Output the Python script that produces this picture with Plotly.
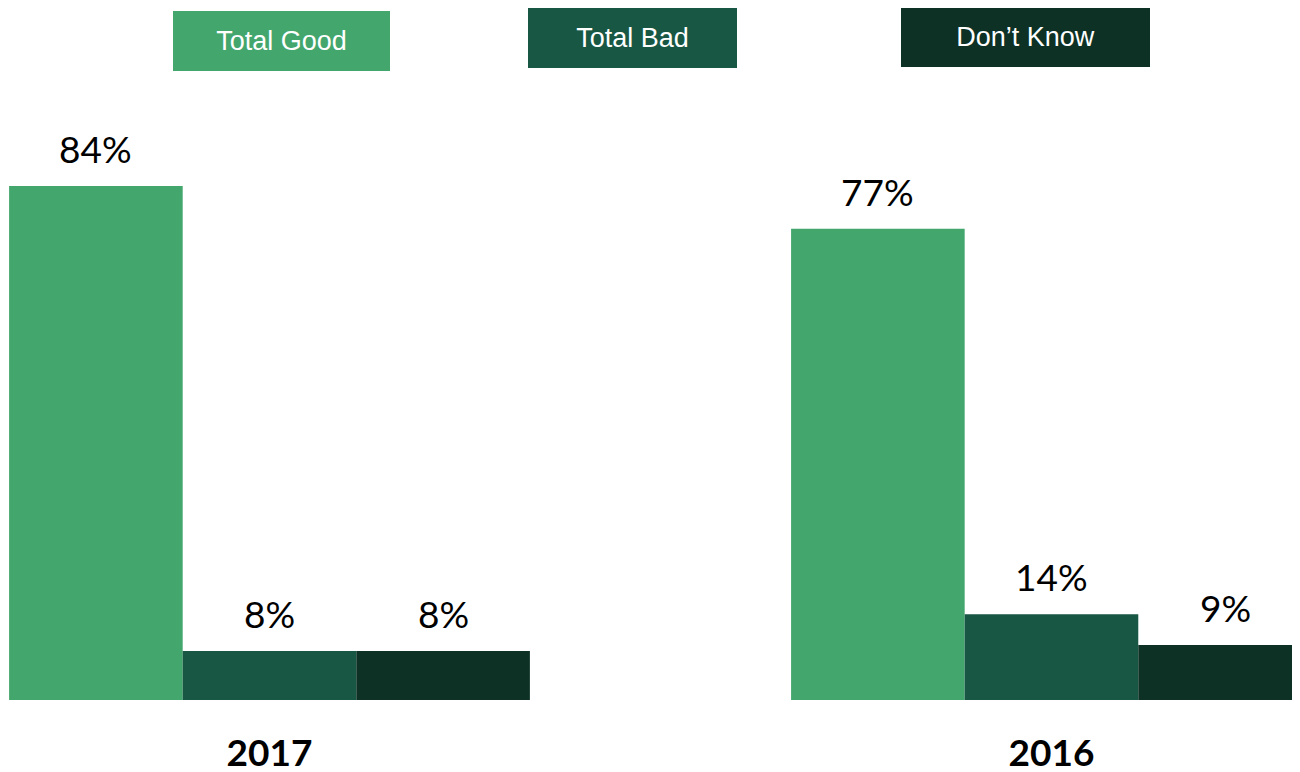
import plotly.graph_objects as go

years = ["2017", "2016"]
series_names = ["Total Good", "Total Bad", "Don\u2019t Know"]
total_good = [84, 77]
total_bad = [8, 14]
dont_know = [8, 9]
colors = ["#43A66D", "#185744", "#0D3125"]

series_values = [total_good, total_bad, dont_know]

# page has an 8px body margin; size the figure so it fits the window
W, H = 1292, 764

bargap = 0.334
n_series = len(series_values)
bar_w = (1 - bargap) / n_series

fig = go.Figure()
for name, vals, col in zip(series_names, series_values, colors):
    fig.add_trace(go.Bar(
        x=years, y=vals, name=name,
        marker=dict(color=col, line=dict(width=0)),
        showlegend=False,
        hoverinfo="skip",
    ))

annotations = []
# value labels above bars
for i, vals in enumerate(series_values):
    off = (i - (n_series - 1) / 2) * bar_w
    for j, v in enumerate(vals):
        annotations.append(dict(
            x=j + off, y=v, xref="x", yref="y",
            text=f"{v}%", showarrow=False,
            yanchor="bottom", xanchor="center", yshift=13,
            font=dict(family="Lato", size=37, color="#000000"),
        ))

# legend boxes (center x in figure px, paper y, width, height)
legend_boxes = [
    (273.5, 1.0983, 217, 60),
    (624.5, 1.1033, 209, 60),
    (1017.5, 1.105, 249, 60),
]
for name, col, (bx, by, bw, bh) in zip(series_names, colors, legend_boxes):
    annotations.append(dict(
        x=bx / W, y=by, xref="paper", yref="paper",
        xanchor="center", yanchor="middle",
        text=name, showarrow=False,
        width=bw, height=bh, bgcolor=col, borderpad=0, borderwidth=0,
        font=dict(family="Liberation Sans, Arial, sans-serif", size=27, color="#FFFFFF"),
    ))

fig.update_layout(
    width=W, height=H,
    margin=dict(l=0, r=0, t=92, b=72),
    paper_bgcolor="white", plot_bgcolor="white",
    barmode="group", bargap=bargap, bargroupgap=0,
    annotations=annotations,
    xaxis=dict(
        type="category",
        range=[-0.3344, 1.3178],
        showgrid=False, zeroline=False, showline=False, ticks="",
        tickfont=dict(family="Lato", size=37, color="#000000", weight="bold"),
        ticklabelstandoff=28,
        automargin=False,
    ),
    yaxis=dict(
        range=[0, 98.04],
        visible=False, showgrid=False, zeroline=False,
    ),
)

fig.write_html("out.html")
